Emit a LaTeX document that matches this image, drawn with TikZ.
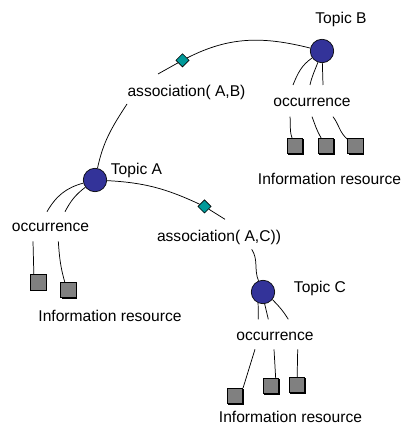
\documentclass[tikz,border=0pt]{standalone}
\usepackage{fontspec}
\setmainfont{Liberation Sans}
\usepackage{tikz}
\usetikzlibrary{shapes.geometric, shadows, positioning}
\definecolor{topicblue}{RGB}{51,51,153}
\definecolor{assocteal}{RGB}{0,153,153}
\definecolor{resgray}{RGB}{128,128,128}
\tikzstyle{topic} = [circle, draw=black, fill=topicblue, minimum size=17.6pt, inner sep=0pt, line width=0.5pt]
\tikzstyle{assoc} = [diamond, draw=black, fill=assocteal, minimum size=10pt, inner sep=0pt, line width=0.5pt]
\tikzstyle{res} = [rectangle, draw=black, fill=resgray, minimum size=11.6pt, inner sep=0pt, line width=0.5pt, drop shadow={shadow xshift=0.7pt, shadow yshift=-0.7pt, fill=black, opacity=1}]
\tikzstyle{txt} = [anchor=base, inner sep=0pt, font=\fontsize{11.7}{14}\selectfont]
\tikzstyle{conn} = [line width=0.55pt]

\begin{document}
\begin{tikzpicture}[x=0.75pt, y=0.75pt]
  \useasboundingbox (0,0) rectangle (406,424);

  % topics and their names
  \node[topic] (tA) at (95,244) {};
  \node[topic] (tB) at (322,373) {};
  \node[topic] (tC) at (263,132) {};
  \node[txt] (nA) at (136.5,249) {Topic A};
  \node[txt] (nB) at (341,400.5) {Topic B};
  \node[txt] (nC) at (320,131) {Topic C};

  % associations
  \node[assoc] (dAB) at (182.5,363.7) {};
  \node[assoc] (dAC) at (204.5,217.5) {};
  \node[txt] (aAB) at (186.5,327.5) {association( A,B)};
  \node[txt] (aAC) at (219,182.7) {association( A,C))};
  \coordinate (abL) at (158,350);
  \coordinate (abR) at (127,320);
  \coordinate (acR) at (225,204.7);
  \coordinate (acL) at (251.7,174.7);

  \draw[conn] (tB) to[out=166, in=27] (dAB);
  \draw[conn] (dAB) -- (abL);
  \draw[conn] (abR) to[out=237, in=78] (tA);
  \draw[conn] (tA) to[out=-3, in=155] (dAC);
  \draw[conn] (dAC) -- (acR);
  \draw[conn] (acL) to[out=-57, in=112] (tC);

  % occurrences
  \node[txt] (oA) at (50.5,192) {occurrence};
  \node[txt] (oB) at (312,317.5) {occurrence};
  \node[txt] (oC) at (275,83.7) {occurrence};

  \coordinate (at1) at (47,212.3);
  \coordinate (at2) at (65,212.3);
  \coordinate (bt1) at (293,339);
  \coordinate (bt2) at (310,339);
  \coordinate (bt3) at (323,339);
  \coordinate (ct1) at (258.3,104.7);
  \coordinate (ct2) at (268.3,104.7);
  \coordinate (ct3) at (288.3,104.7);

  \draw[conn] (tA) to[out=195, in=60] (at1);
  \draw[conn] (tA) to[out=217, in=62] (at2);
  \draw[conn] (tB) to[out=215, in=68] (bt1);
  \draw[conn] (tB) to[out=250, in=78] (bt2);
  \draw[conn] (tB) -- (bt3);
  \draw[conn] (tC.246) -- (ct1);
  \draw[conn] (tC.278) -- (ct2);
  \draw[conn] (tC.321) to[out=-45, in=122] (ct3);

  % information resources
  \node[res] (rA1) at (38.5,141.5) {};
  \node[res] (rA2) at (68.5,134) {};
  \node[res] (rB1) at (295,278) {};
  \node[res] (rB2) at (326,278) {};
  \node[res] (rB3) at (355.5,278) {};
  \node[res] (rC1) at (235,28) {};
  \node[res] (rC2) at (271,38) {};
  \node[res] (rC3) at (297,39) {};
  \node[txt] (iA) at (110,102) {Information resource};
  \node[txt] (iB) at (329.5,239) {Information resource};
  \node[txt] (iC) at (290.5,2) {Information resource};

  \coordinate (ab1) at (33,182.7);
  \coordinate (ab2) at (58.3,182.7);
  \coordinate (bb1) at (290,307.3);
  \coordinate (bb2) at (312,307.3);
  \coordinate (bb3) at (333,307.3);
  \coordinate (cb1) at (255,74.7);
  \coordinate (cb2) at (274,74.7);
  \coordinate (cb3) at (297.7,74.7);

  \draw[conn] (ab1) -- (rA1.120);
  \draw[conn] (ab2) to[out=-86, in=106] (rA2.115);
  \draw[conn] (bb1) to[out=-84, in=110] (rB1);
  \draw[conn] (bb2) to[out=-69, in=121] (rB2);
  \draw[conn] (bb3) to[out=-53, in=140] (rB3);
  \draw[conn] (cb1) -- (rC1.north east);
  \draw[conn] (cb2) -- (rC2.60);
  \draw[conn] (cb3) -- (rC3);
\end{tikzpicture}
\end{document}
